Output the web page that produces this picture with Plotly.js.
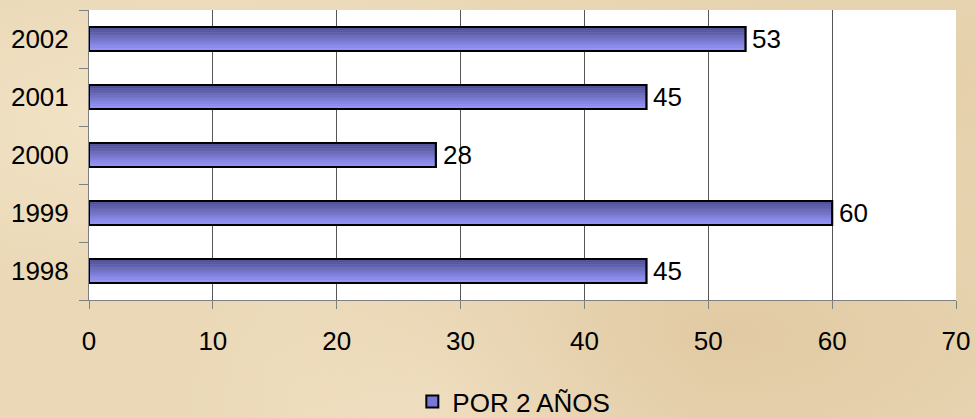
<!DOCTYPE html>
<html>
<head>
<meta charset="utf-8">
<script src="https://cdn.plot.ly/plotly-3.0.1.min.js"></script>
<style>
html,body{margin:0;padding:0;width:976px;height:418px;overflow:hidden;}
body{
  background-color:#ead8b6;
  background-image:
    radial-gradient(ellipse at 20% 30%, rgba(255,245,225,0.45) 0%, rgba(255,245,225,0) 40%),
    radial-gradient(ellipse at 75% 80%, rgba(205,170,120,0.3) 0%, rgba(205,170,120,0) 45%),
    radial-gradient(ellipse at 90% 20%, rgba(210,180,130,0.25) 0%, rgba(210,180,130,0) 40%),
    radial-gradient(ellipse at 45% 95%, rgba(250,238,215,0.45) 0%, rgba(250,238,215,0) 35%);
}
#chart{width:976px;height:418px;}
</style>
</head>
<body>
<div id="chart"></div>
<script>
const categories = ["1998", "1999", "2000", "2001", "2002"];
const values = [45, 60, 28, 45, 53];
const seriesName = "POR 2 AÑOS";
const xTicks = [0, 10, 20, 30, 40, 50, 60, 70];

const FONT = "Liberation Sans, Arial, Helvetica, sans-serif";
const FS = 26;
const BAR_W = 0.41;
const traces = [];

// legend / base trace (hidden beneath)
traces.push({
  type: "bar", orientation: "h", y: categories, x: values, name: seriesName,
  width: BAR_W, marker: {color: "#7878d8", line: {color: "#000", width: 2}},
  hoverinfo: "skip", showlegend: true
});

// gradient strips (dark at top, light at bottom)
const N = 14;
const gTop = [76, 76, 138], gBot = [154, 154, 255];
for (let i = 0; i < N; i++) {
  const t = i / (N - 1);
  const c = gTop.map((v, k) => Math.round(v + (gBot[k] - v) * t));
  const h = BAR_W / N;
  traces.push({
    type: "bar", orientation: "h", y: categories, x: values,
    width: h * 1.02, offset: BAR_W / 2 - (i + 1) * h,
    marker: {color: `rgb(${c[0]},${c[1]},${c[2]})`, line: {width: 0}},
    showlegend: false, hoverinfo: "skip"
  });
}

// outline
traces.push({
  type: "bar", orientation: "h", y: categories, x: values,
  width: BAR_W, marker: {color: "rgba(0,0,0,0)", line: {color: "#000", width: 2}},
  showlegend: false, hoverinfo: "skip"
});

// value labels (y given as category index on the category axis)
const annotations = values.map((v, i) => ({
  x: v, y: categories.indexOf(categories[i]), xref: "x", yref: "y",
  text: String(v), showarrow: false, xanchor: "left", yanchor: "middle",
  xshift: 5, font: {family: FONT, size: FS, color: "#000"}
}));

const layout = {
  width: 976, height: 418,
  paper_bgcolor: "rgba(0,0,0,0)", plot_bgcolor: "#ffffff",
  margin: {l: 89, r: 20, t: 10, b: 118, autoexpand: false},
  barmode: "overlay",
  font: {family: FONT, size: FS, color: "#000"},
  annotations: annotations,
  xaxis: {
    range: [0, 70], tickvals: xTicks, ticktext: xTicks.map(String),
    showgrid: true, gridcolor: "#555555", gridwidth: 1,
    showline: true, linecolor: "#808080", linewidth: 1,
    ticks: "outside", ticklen: 8, tickcolor: "#808080",
    ticklabelstandoff: 10, zeroline: false, automargin: false,
    tickfont: {family: FONT, size: FS, color: "#000"}, fixedrange: true
  },
  yaxis: {
    type: "category", categoryorder: "array", categoryarray: categories,
    range: [-0.5, categories.length - 0.5],
    showgrid: false, showline: true, linecolor: "#808080", linewidth: 1,
    ticks: "outside", ticklen: 9, tickcolor: "#808080", tickson: "boundaries",
    ticklabelstandoff: 14, automargin: false,
    tickfont: {family: FONT, size: FS, color: "#000"}, fixedrange: true
  },
  showlegend: true,
  legend: {
    orientation: "h", x: 0.49, xanchor: "center", y: -0.35, yanchor: "middle",
    bgcolor: "rgba(0,0,0,0)", font: {family: FONT, size: FS, color: "#000"},
    itemwidth: 30
  }
};

Plotly.newPlot("chart", traces, layout, {displayModeBar: false, staticPlot: true});
</script>
</body>
</html>
